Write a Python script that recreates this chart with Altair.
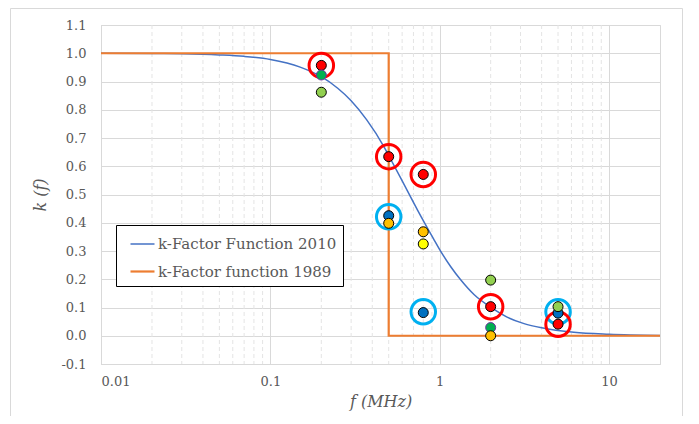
import altair as alt
import pandas as pd

# 2010 k-factor curve
curve_f = [0.01, 0.02, 0.03, 0.05, 0.07, 0.1, 0.15, 0.2, 0.25, 0.3, 0.37, 0.47, 0.5, 0.59, 0.74,
           0.92, 1.0, 1.16, 1.33, 1.6, 2.0, 2.5, 3.15, 4.0, 6.2, 10, 20]
curve_k = [1.0, 0.999, 0.998, 0.994, 0.989, 0.978, 0.951, 0.917, 0.876, 0.832, 0.765, 0.668, 0.638, 0.557, 0.445,
           0.343, 0.305, 0.245, 0.198, 0.145, 0.101, 0.066, 0.043, 0.028, 0.012, 0.005, 0.001]

# 1989 step function
step_f = [0.01, 0.5, 0.5, 20]
step_k = [1.0, 1.0, 0.0, 0.0]

series_names = ["k-Factor Function 2010", "k-Factor function 1989"]
series_colors = ["#4472C4", "#ED7D31"]

# measured points
pt_f = [0.2, 0.5, 0.8, 2, 5,
        0.5, 0.8, 5,
        0.2, 2, 5,
        0.2, 2,
        0.5, 0.8, 2,
        0.8]
pt_k = [0.957, 0.634, 0.571, 0.103, 0.041,
        0.425, 0.082, 0.080,
        0.862, 0.197, 0.103,
        0.923, 0.029,
        0.398, 0.368, 0.0,
        0.325]
pt_fill = ["#FF0000"] * 5 + ["#0070C0"] * 3 + ["#92D050"] * 3 + ["#00B050"] * 2 + ["#FFC000"] * 3 + ["#FFFF00"]
pt_edge = ["#000000"] * 11 + ["#7030A0"] * 2 + ["#000000"] * 4

# highlight rings
ring_f = [0.5, 0.8, 5, 0.2, 0.5, 0.8, 2, 5]
ring_k = [0.421, 0.085, 0.085, 0.957, 0.634, 0.571, 0.103, 0.041]
ring_color = ["#00B0F0"] * 3 + ["#FF0000"] * 5

minor_ticks = [0.02, 0.03, 0.04, 0.05, 0.06, 0.07, 0.08, 0.09,
               0.2, 0.3, 0.4, 0.5, 0.6, 0.7, 0.8, 0.9,
               2, 3, 4, 5, 6, 7, 8, 9]
major_ticks = [0.01, 0.1, 1, 10]
y_ticks = [-0.1, 0.0, 0.1, 0.2, 0.3, 0.4, 0.5, 0.6, 0.7, 0.8, 0.9, 1.0, 1.1]

lines_df = pd.DataFrame(
    {"f": curve_f + step_f,
     "k": curve_k + step_k,
     "series": [series_names[0]] * len(curve_f) + [series_names[1]] * len(step_f),
     "idx": list(range(len(curve_f))) + list(range(len(step_f)))}
)
pts_df = pd.DataFrame({"f": pt_f, "k": pt_k, "fill": pt_fill, "edge": pt_edge})
ring_df = pd.DataFrame({"f": ring_f, "k": ring_k, "c": ring_color})
minor_df = pd.DataFrame({"f": minor_ticks})

serif = "DejaVu Serif"
grey = "#595959"

xscale = alt.Scale(type="log", domain=[0.01, 20], nice=False)
yscale = alt.Scale(domain=[-0.1, 1.1], nice=False, zero=False)

common = dict(grid=True, gridColor="#D9D9D9", ticks=False, domainColor="#D9D9D9",
              labelFont=serif, labelFontSize=13, labelColor=grey, labelOverlap=False,
              titleFont=serif, titleFontSize=16, titleFontStyle="italic",
              titleFontWeight="normal", titleColor=grey)
xaxis = alt.Axis(values=major_ticks, labelExpr="'' + datum.value", title="f (MHz)",
                 labelPadding=11, titlePadding=5, **common)
yaxis = alt.Axis(values=y_ticks,
                 labelExpr="datum.value < -0.001 ? '-' + format(-datum.value, '.1f') : format(abs(datum.value), '.1f')",
                 title="k (f)", labelPadding=15, titlePadding=12, **common)

X = alt.X("f:Q", scale=xscale, axis=xaxis)
Y = alt.Y("k:Q", scale=yscale, axis=yaxis)

frame = alt.Chart(pd.DataFrame({"a": [0]})).mark_rect(
    filled=False, stroke="#D9D9D9", strokeWidth=1
).encode(x=alt.value(-90.5), x2=alt.value(581.5), y=alt.value(-16.5), y2=alt.value(396.5))

minor = alt.Chart(minor_df).mark_rule(
    stroke="#E4E4E4", strokeDash=[4, 3], strokeWidth=1
).encode(x=X)

lines = alt.Chart(lines_df).mark_line(interpolate="monotone").encode(
    x=X,
    y=Y,
    color=alt.Color("series:N",
                    scale=alt.Scale(domain=series_names, range=series_colors),
                    sort=series_names,
                    legend=alt.Legend(title=None, orient="none", legendX=15, legendY=200,
                                      direction="vertical", padding=6,
                                      strokeColor="#000000", fillColor="#FFFFFF",
                                      symbolType="stroke", symbolSize=576,
                                      symbolStrokeWidth=2, symbolOffset=7,
                                      labelFont=serif, labelFontSize=15, labelColor=grey,
                                      labelOffset=2, rowPadding=6, labelLimit=300)),
    strokeWidth=alt.StrokeWidth("series:N",
                                scale=alt.Scale(domain=series_names, range=[1.5, 2.2]),
                                legend=None),
    order="idx:Q",
)

rings = alt.Chart(ring_df).mark_point(
    shape="circle", filled=False, size=600, strokeWidth=3, opacity=1
).encode(
    x=X, y=Y,
    stroke=alt.Stroke("c:N", scale=None),
)

dots = alt.Chart(pts_df).mark_point(
    shape="circle", filled=True, size=100, strokeWidth=1, opacity=1, fillOpacity=1
).encode(
    x=X, y=Y,
    fill=alt.Fill("fill:N", scale=None),
    stroke=alt.Stroke("edge:N", scale=None),
)

chart = alt.layer(frame, minor, lines, rings, dots).properties(
    width=559, height=339,
    autosize=alt.AutoSizeParams(type="none"),
    padding={"left": 93, "top": 17, "right": 31, "bottom": 52},
).configure(
    background="#FFFFFF", font=serif
).configure_view(
    stroke="#D9D9D9"
)

chart.save("out.html", embed_options={"renderer": "svg", "actions": False})
